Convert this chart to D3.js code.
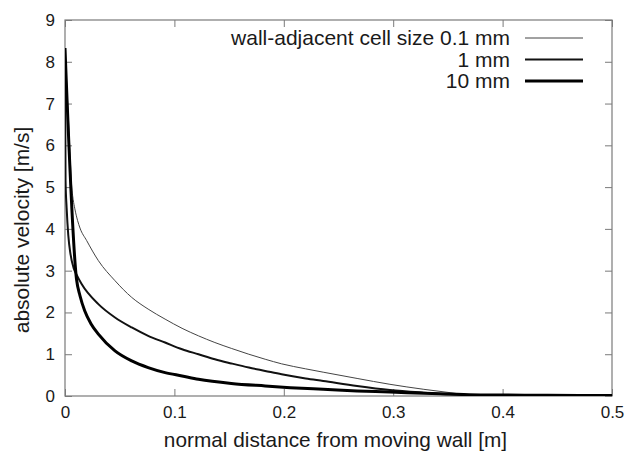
<!DOCTYPE html>
<html>
<head>
<meta charset="utf-8">
<script src="https://cdn.jsdelivr.net/npm/d3@7"></script>
<style>
  body { margin: 0; background: #fff; }
  text { font-family: "Liberation Sans", Arial, Helvetica, sans-serif; fill: #1a1a1a; }
</style>
</head>
<body>
<div id="chart"></div>
<script>
// distance from moving wall [m], absolute velocity [m/s]
const fineX = [0, 0.0015, 0.003, 0.0045, 0.006, 0.0075, 0.009, 0.0115, 0.0137, 0.0198, 0.0305, 0.0457, 0.061, 0.076, 0.0915, 0.107, 0.122, 0.137, 0.152, 0.168, 0.183, 0.198, 0.22, 0.236, 0.267, 0.297, 0.328, 0.352, 0.364, 0.38, 0.42, 0.5];
const fineY = [8.3, 7.5, 6.7, 5.85, 5.05, 4.7, 4.48, 4.2, 4.02, 3.72, 3.24, 2.76, 2.36, 2.08, 1.84, 1.62, 1.44, 1.28, 1.14, 1.0, 0.88, 0.77, 0.65, 0.57, 0.42, 0.28, 0.16, 0.08, 0.04, 0.025, 0.02, 0.015];

const mediumX = [0, 0.0005, 0.0015, 0.003, 0.005, 0.008, 0.0107, 0.0152, 0.0305, 0.0457, 0.061, 0.076, 0.0915, 0.107, 0.122, 0.137, 0.152, 0.168, 0.183, 0.198, 0.22, 0.236, 0.267, 0.297, 0.328, 0.352, 0.37, 0.4, 0.45, 0.5];
const mediumY = [8.3, 5.15, 4.5, 3.85, 3.4, 3.05, 2.9, 2.68, 2.2, 1.88, 1.64, 1.44, 1.28, 1.12, 1.0, 0.88, 0.78, 0.68, 0.6, 0.52, 0.42, 0.36, 0.24, 0.144, 0.08, 0.04, 0.025, 0.02, 0.015, 0.01];

const coarseX = [0, 0.0105, 0.0137, 0.018, 0.024, 0.0305, 0.0457, 0.061, 0.076, 0.0915, 0.107, 0.122, 0.152, 0.183, 0.206, 0.236, 0.267, 0.297, 0.328, 0.358, 0.38, 0.42, 0.47, 0.5];
const coarseY = [8.33, 2.8, 2.4, 2.04, 1.72, 1.48, 1.08, 0.84, 0.68, 0.56, 0.48, 0.4, 0.3, 0.24, 0.2, 0.16, 0.12, 0.096, 0.064, 0.04, 0.025, 0.02, 0.01, 0.01];

const seriesLabels = ["wall-adjacent cell size 0.1 mm", "1 mm", "10 mm"];
const xTicks = [0, 0.1, 0.2, 0.3, 0.4, 0.5];
const yTicks = [0, 1, 2, 3, 4, 5, 6, 7, 8, 9];

const width = 626, height = 452;
const margin = { top: 20, right: 14, bottom: 56, left: 65 };
const innerW = width - margin.left - margin.right;
const innerH = height - margin.top - margin.bottom;

const svg = d3.select("#chart")
  .append("svg")
  .attr("width", width)
  .attr("height", height);

const x = d3.scaleLinear().domain([0, 0.5]).range([0, innerW]);
const y = d3.scaleLinear().domain([0, 9]).range([innerH, 0]);

const g = svg.append("g").attr("transform", `translate(${margin.left},${margin.top})`);

const frameColor = "#7a7a7a";
const tickLen = 7;

// inward ticks on all four sides (gnuplot style)
g.append("g")
  .attr("transform", `translate(0,${innerH})`)
  .call(d3.axisBottom(x).tickValues(xTicks).tickSize(-tickLen).tickPadding(10).tickFormat(d => d === 0 ? "0" : d3.format(".1f")(d)))
  .call(a => a.select(".domain").remove());
g.append("g")
  .call(d3.axisTop(x).tickValues(xTicks).tickSize(-tickLen).tickFormat(""))
  .call(a => a.select(".domain").remove());
g.append("g")
  .call(d3.axisLeft(y).tickValues(yTicks).tickSize(-tickLen).tickPadding(10).tickFormat(d3.format("d")))
  .call(a => a.select(".domain").remove());
g.append("g")
  .attr("transform", `translate(${innerW},0)`)
  .call(d3.axisRight(y).tickValues(yTicks).tickSize(-tickLen).tickFormat(""))
  .call(a => a.select(".domain").remove());

g.selectAll(".tick line").attr("stroke", frameColor).attr("stroke-width", 1);
g.selectAll(".tick text")
  .style("font-size", "17px")
  .style("font-family", "'Liberation Sans', Arial, sans-serif")
  .attr("fill", "#1a1a1a");

g.append("rect")
  .attr("x", 0).attr("y", 0)
  .attr("width", innerW).attr("height", innerH)
  .attr("fill", "none")
  .attr("stroke", frameColor)
  .attr("stroke-width", 1.2);

const line = d3.line()
  .curve(d3.curveMonotoneX)
  .x(d => x(d[0]))
  .y(d => y(d[1]));

const series = [
  { xs: fineX, ys: fineY, color: "#444", w: 1 },
  { xs: mediumX, ys: mediumY, color: "#111", w: 2 },
  { xs: coarseX, ys: coarseY, color: "#000", w: 3 }
];

svg.append("clipPath").attr("id", "plotclip")
  .append("rect").attr("width", innerW).attr("height", innerH);

g.append("g").attr("clip-path", "url(#plotclip)")
  .selectAll("path.series")
  .data(series)
  .join("path")
  .attr("class", "series")
  .attr("fill", "none")
  .attr("stroke", d => d.color)
  .attr("stroke-width", d => d.w)
  .attr("stroke-linejoin", "round")
  .attr("d", d => line(d.xs.map((v, i) => [v, d.ys[i]])));

// legend
const legend = g.append("g").attr("transform", `translate(${innerW - 102},0)`);
series.forEach((s, i) => {
  const ly = 18 + i * 21.5;
  legend.append("text")
    .attr("x", 0)
    .attr("y", ly)
    .attr("dy", "0.35em")
    .attr("text-anchor", "end")
    .style("font-size", "21px")
    .text(seriesLabels[i]);
  legend.append("line")
    .attr("x1", 15).attr("x2", 73)
    .attr("y1", ly).attr("y2", ly)
    .attr("stroke", s.color)
    .attr("stroke-width", s.w);
});

// axis titles
svg.append("text")
  .attr("x", margin.left + innerW / 2 - 3)
  .attr("y", 447)
  .attr("text-anchor", "middle")
  .style("font-size", "20.8px")
  .text("normal distance from moving wall [m]");

svg.append("text")
  .attr("transform", "translate(29,230) rotate(-90)")
  .attr("text-anchor", "middle")
  .style("font-size", "21px")
  .text("absolute velocity [m/s]");
</script>
</body>
</html>
